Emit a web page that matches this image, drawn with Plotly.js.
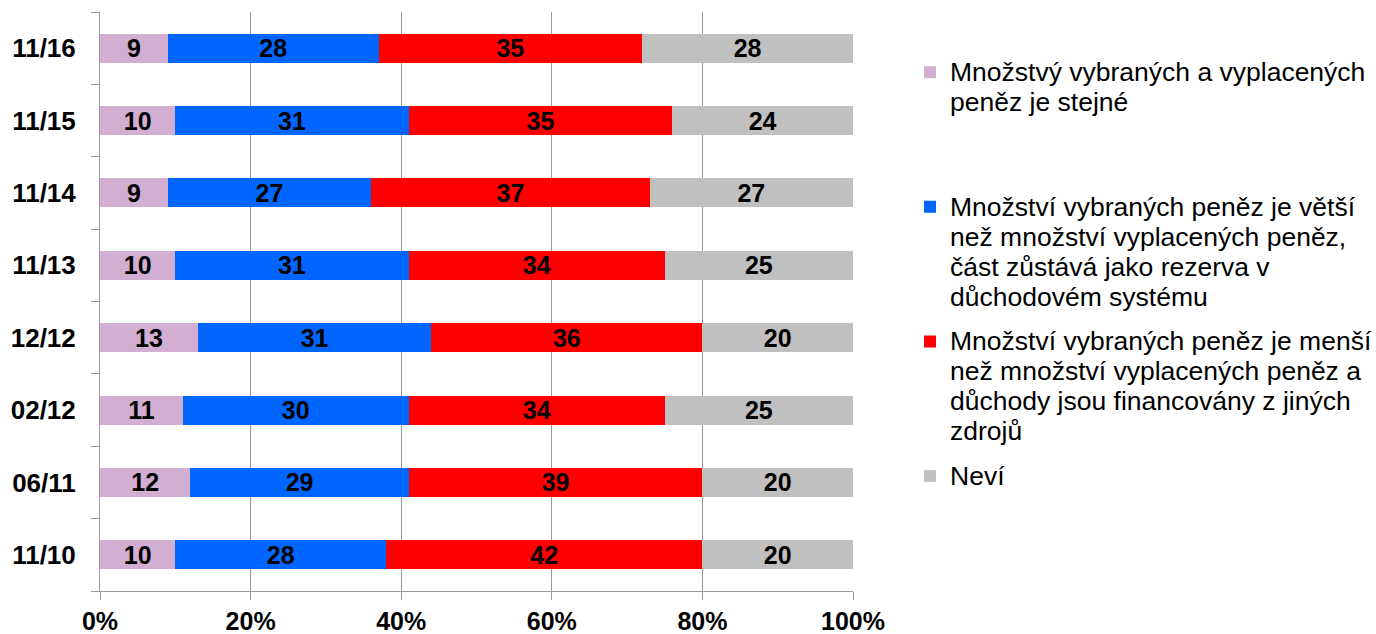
<!DOCTYPE html>
<html>
<head>
<meta charset="utf-8">
<script src="https://cdn.plot.ly/plotly-3.0.1.min.js"></script>
<style>html,body{margin:0;padding:0;background:#fff;}#chart{width:1376px;height:634px;}</style>
</head>
<body>
<div id="chart"></div>
<script>
var categories = ["11/10", "06/11", "02/12", "12/12", "11/13", "11/14", "11/15", "11/16"];
var seriesNames = [
  "Množstvý vybraných a vyplacených<br>peněz je stejné<br> <br> ",
  "Množství vybraných peněz je větší<br>než množství vyplacených peněz,<br>část zůstává jako rezerva v<br>důchodovém systému",
  "Množství vybraných peněz je menší<br>než množství vyplacených peněz a<br>důchody jsou financovány z jiných<br>zdrojů",
  "Neví"
];
var sameValues    = [10, 12, 11, 13, 10, 9, 10, 9];
var biggerValues  = [28, 29, 30, 31, 31, 27, 31, 28];
var smallerValues = [42, 39, 34, 36, 34, 37, 35, 35];
var dontKnowValues = [20, 20, 25, 20, 25, 27, 24, 28];
var colors = ["#D2AED2", "#0066FF", "#FF0000", "#C0C0C0"];
var xTickVals = [0, 20, 40, 60, 80, 100];
var xTickText = ["0%", "20%", "40%", "60%", "80%", "100%"];

var allValues = [sameValues, biggerValues, smallerValues, dontKnowValues];
var traces = allValues.map(function (vals, i) {
  return {
    type: "bar",
    orientation: "h",
    y: categories,
    x: vals,
    name: "<span style='font-size:26.5px'>" + seriesNames[i] + "</span>",
    legendgroup: "g" + i,
    marker: { color: colors[i], line: { width: 0 } },
    text: vals.map(String),
    textposition: "inside",
    insidetextanchor: "middle",
    constraintext: "none",
    textangle: 0,
    textfont: { family: "Liberation Sans, Arial, sans-serif", size: 25, color: "#000", weight: "bold" },
    hoverinfo: "skip"
  };
});

var layout = {
  width: 1376,
  height: 634,
  margin: { l: 100, r: 523, t: 12, b: 43, autoexpand: false },
  paper_bgcolor: "#fff",
  plot_bgcolor: "#fff",
  barmode: "stack",
  bargap: 0.6,
  font: { family: "Liberation Sans, Arial, sans-serif", color: "#000" },
  xaxis: {
    range: [0, 100],
    tickmode: "array",
    tickvals: xTickVals,
    ticktext: xTickText,
    showgrid: true,
    gridcolor: "#999",
    gridwidth: 1,
    zeroline: false,
    showline: true,
    linecolor: "#999",
    linewidth: 1,
    ticks: "outside",
    ticklen: 8,
    tickcolor: "#999",
    tickfont: { size: 25, weight: "bold", color: "#000" },
    automargin: false,
    fixedrange: true
  },
  yaxis: {
    type: "category",
    categoryorder: "array",
    categoryarray: categories,
    showgrid: false,
    showline: true,
    linecolor: "#999",
    linewidth: 1,
    ticks: "outside",
    tickson: "boundaries",
    ticklen: 8,
    tickcolor: "#999",
    ticklabelstandoff: 18,
    tickfont: { size: 26, weight: "bold", color: "#000" },
    automargin: false,
    fixedrange: true
  },
  showlegend: true,
  legend: {
    x: 1.0757,
    xanchor: "left",
    y: 0.933,
    yanchor: "top",
    traceorder: "grouped",
    tracegroupgap: 12,
    valign: "top",
    font: { size: 23, color: "#000" },
    bgcolor: "rgba(0,0,0,0)"
  }
};

Plotly.newPlot("chart", traces, layout, { displayModeBar: false, staticPlot: true });
</script>
</body>
</html>
